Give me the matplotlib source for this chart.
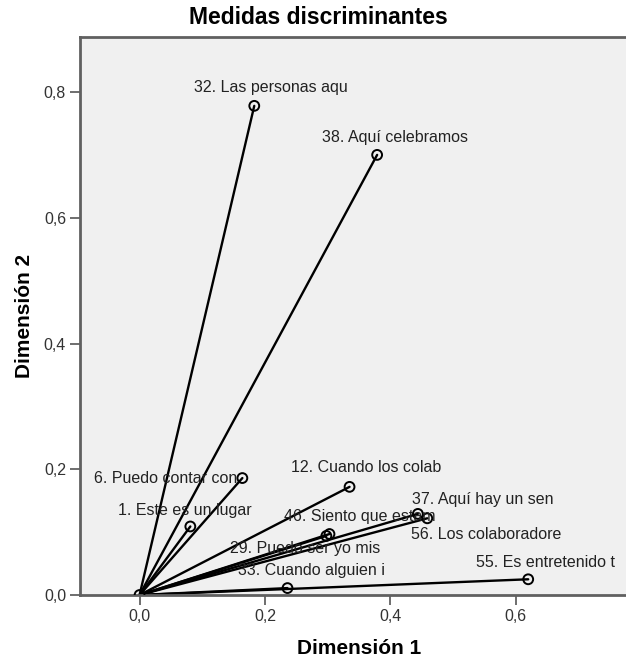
import matplotlib
matplotlib.use("Agg")
import matplotlib.pyplot as plt

plt.rcParams['font.family'] = ['Liberation Sans', 'DejaVu Sans']

# Discrimination measures per item
labels = ["32. Las personas aqu", "38. Aquí celebramos", "6. Puedo contar con",
          "12. Cuando los colab", "1. Este es un lugar", "46. Siento que estam",
          "29. Puedo ser yo mis", "33. Cuando alguien i", "37. Aquí hay un sen",
          "56. Los colaboradore", "55. Es entretenido t", ""]
dim1 = [0.183, 0.379, 0.164, 0.335, 0.081, 0.303, 0.298, 0.236, 0.444, 0.459, 0.620, 0.0]
dim2 = [0.778, 0.700, 0.186, 0.172, 0.109, 0.097, 0.094, 0.011, 0.129, 0.122, 0.025, 0.0]

# label offsets (pixels) relative to each point
label_dx = [17, 18, -77, 17, -6, 30, -21, 24, 65, 59, 17, 0]
label_dy = [18, 17, 0, 19, 16, 18, -13, 18, 14, -16, 17, 0]

dpi = 100
fig = plt.figure(figsize=(6.26, 6.62), dpi=dpi)
ax = fig.add_axes([80 / 626, 67 / 662, 546 / 626, 558 / 662])
ax.set_facecolor('#f0f0f0')

for x, y in zip(dim1, dim2):
    ax.plot([0, x], [0, y], color='black', lw=1.7, solid_capstyle='round', zorder=2)
ax.scatter(dim1, dim2, s=50, facecolors='none', edgecolors='black', linewidths=1.4, zorder=3)

px2pt = 72 / dpi
for lab, x, y, dx, dy in zip(labels, dim1, dim2, label_dx, label_dy):
    if lab:
        ax.annotate(lab, (x, y), xytext=(dx * px2pt, dy * px2pt), textcoords='offset points',
                    ha='center', va='center', fontsize=11.5, color='#222222', zorder=4)

ax.set_xlim(-0.095, 0.776)
ax.set_ylim(0.0, 0.8875)
ax.set_xticks([0.0, 0.2, 0.4, 0.6])
ax.set_yticks([0.0, 0.2, 0.4, 0.6, 0.8])
fmt = lambda v: f"{v:.1f}".replace('.', ',')
ax.set_xticklabels([fmt(v) for v in [0.0, 0.2, 0.4, 0.6]])
ax.set_yticklabels([fmt(v) for v in [0.0, 0.2, 0.4, 0.6, 0.8]])
ax.tick_params(axis='both', labelsize=11.5, colors='#555555', labelcolor='#333333',
               length=7, width=1.2, direction='out', pad=3)

for side in ['left', 'top', 'bottom']:
    ax.spines[side].set_color('#606060')
    ax.spines[side].set_linewidth(2)
ax.spines['right'].set_visible(False)

fig.text(318 / 626, 1 - 18 / 662, "Medidas discriminantes", fontsize=16.5, fontweight='bold',
         ha='center', va='center')
fig.text(359 / 626, 1 - 648 / 662, "Dimensión 1", fontsize=15, fontweight='bold',
         ha='center', va='center')
fig.text(25 / 626, 1 - 316 / 662, "Dimensión 2", fontsize=15, fontweight='bold',
         ha='center', va='center', rotation=90)

fig.savefig("out.png", dpi=dpi, facecolor='white')
